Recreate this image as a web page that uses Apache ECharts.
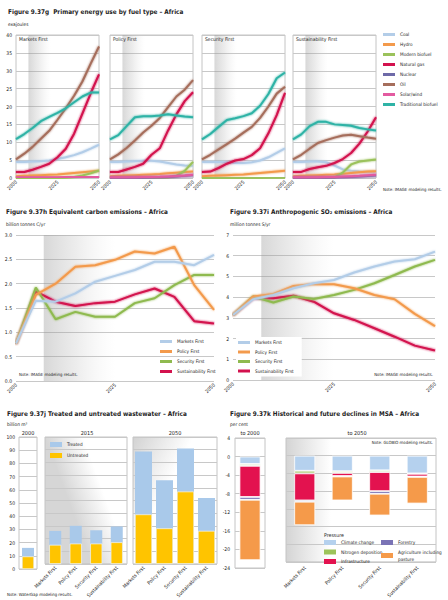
<!DOCTYPE html>
<html><head><meta charset="utf-8">
<script src="https://cdn.jsdelivr.net/npm/echarts@6/dist/echarts.min.js"></script>
<style>html,body{margin:0;padding:0;background:#fff}#c{width:448px;height:600px}</style>
</head><body><div id="c"></div>
<script>
// ---------- DATA ----------
const years = [2000,2005,2010,2015,2020,2025,2030,2035,2040,2045,2050];
const scenarios = ['Markets First','Policy First','Security First','Sustainability First'];
const fuels = ['Coal','Hydro','Modern biofuel','Natural gas','Nuclear','Oil','Solar/wind','Traditional biofuel'];
// Primary energy use (exajoules); rows: Markets, Policy, Security, Sustainability
const coal = [
  [4.5,4.5,4.6,4.7,4.9,5.3,5.8,6.4,7.2,8.2,9.3],
  [4.5,4.5,4.6,4.7,4.8,4.8,4.6,4.2,3.8,3.5,3.4],
  [4.5,4.5,4.5,4.4,4.2,4.2,4.4,4.9,5.8,7.0,8.3],
  [4.5,4.5,4.6,4.6,4.4,3.5,2.4,2.0,1.8,1.7,1.7]];
const hydro = [
  [0.5,0.6,0.7,0.8,0.9,1.0,1.2,1.4,1.6,1.8,2.0],
  [0.5,0.6,0.7,0.8,0.9,1.0,1.1,1.3,1.5,1.7,1.8],
  [0.5,0.6,0.7,0.8,0.9,1.0,1.2,1.4,1.6,1.8,2.0],
  [0.5,0.6,0.7,0.8,0.9,1.0,1.2,1.4,1.6,1.8,1.9]];
const modernBiofuel = [
  [0,0,0,0,0,0,0.1,0.3,0.7,1.3,2.1],
  [0,0,0,0,0,0,0,0.1,0.6,2.0,4.5],
  [0,0,0,0,0,0,0,0,0.1,0.1,0.1],
  [0,0,0,0,0,0.1,1.5,3.8,4.6,4.9,5.2]];
const naturalGas = [
  [1.7,1.7,2.3,3.1,4.0,5.8,8.2,12.4,18.0,23.7,29.0],
  [1.7,1.7,2.4,3.1,4.0,6.5,8.3,13.3,17.8,21.5,24.0],
  [1.7,1.8,2.8,4.0,4.9,5.3,6.4,8.3,12.5,17.6,23.8],
  [1.7,1.7,2.5,3.0,3.4,4.2,5.3,7.0,9.6,13.0,17.0]];
const nuclear = [
  [0.1,0.1,0.1,0.1,0.1,0.1,0.1,0.1,0.1,0.1,0.1],
  [0.1,0.1,0.1,0.1,0.1,0.15,0.2,0.3,0.45,0.6,0.8],
  [0.1,0.1,0.1,0.1,0.1,0.1,0.1,0.1,0.1,0.1,0.1],
  [0.1,0.1,0.1,0.1,0.1,0.15,0.2,0.3,0.4,0.55,0.7]];
const oil = [
  [5.2,6.8,8.7,11.0,13.2,16.3,19.5,23.0,27.0,32.0,36.8],
  [5.2,6.6,8.4,10.5,12.7,14.6,16.8,19.8,22.8,24.7,27.4],
  [5.2,6.5,8.0,9.5,11.0,12.7,14.3,16.8,20.0,23.6,25.5],
  [5.2,6.5,8.2,9.8,10.6,11.3,11.9,12.1,11.7,11.3,11.0]];
const solarWind = [
  [0.2,0.2,0.2,0.2,0.2,0.2,0.25,0.25,0.3,0.3,0.3],
  [0.2,0.2,0.2,0.2,0.25,0.3,0.35,0.45,0.55,0.7,0.9],
  [0.2,0.2,0.2,0.2,0.2,0.2,0.2,0.2,0.2,0.2,0.2],
  [0.2,0.2,0.2,0.2,0.25,0.3,0.4,0.5,0.6,0.75,0.9]];
const tradBiofuel = [
  [10.9,12.3,14.0,15.9,17.1,18.2,19.5,21.2,22.8,23.9,23.9],
  [10.8,12.0,14.5,17.0,17.3,17.3,17.5,17.8,17.5,17.2,17.0],
  [10.8,12.3,14.3,16.2,16.7,17.3,18.1,20.2,23.5,27.9,29.5],
  [10.8,12.2,14.5,15.7,15.7,15.0,14.8,14.6,14.0,13.6,13.3]];
// Equivalent carbon emissions (billion tonnes C/yr)
const carbonMarkets = [0.77,1.65,1.63,1.80,2.04,2.16,2.28,2.45,2.45,2.38,2.59];
const carbonPolicy = [0.77,1.77,2.00,2.35,2.38,2.49,2.66,2.62,2.76,1.97,1.46];
const carbonSecurity = [0.77,1.92,1.27,1.42,1.32,1.32,1.60,1.70,1.97,2.18,2.18];
const carbonSustain = [0.77,1.84,1.63,1.54,1.60,1.63,1.78,1.90,1.73,1.23,1.18];
// Anthropogenic SO2 emissions (million tonnes S/yr)
const so2Markets = [3.14,3.90,4.10,4.43,4.67,4.83,5.19,5.48,5.72,5.83,6.20];
const so2Policy = [3.14,4.03,4.15,4.54,4.64,4.62,4.43,4.10,3.90,3.19,2.60];
const so2Security = [3.14,4.03,3.74,4.03,3.91,4.10,4.35,4.67,5.07,5.48,5.80];
const so2Sustain = [3.14,3.95,3.95,4.07,3.78,3.22,2.90,2.50,2.09,1.66,1.42];
// Wastewater (billion m3)
const ww2000Untreated = [9.5];
const ww2000Treated = [6.5];
const ww2015Untreated = [15,16,16,17];
const ww2015Treated = [11,14,10.5,12.5];
const ww2050Untreated = [39,28,57,26];
const ww2050Treated = [49.5,38,34,26];
// MSA declines (per cent)
const pressures = ['Climate change','Nitrogen deposition','Infrastructure','Forestry','Agriculture including pasture'];
const msaTo2000 = [-1.6,-0.4,-6.7,-0.6,-13.0];           // by pressure
const msaClimate = [-3.4,-3.5,-3.3,-4.0];                // by scenario, to 2050
const msaNitrogen = [-0.6,-0.4,-0.4,-0.1];
const msaInfra = [-6.1,-0.7,-4.3,-0.6];
const msaForestry = [-0.3,-0.1,-0.6,-0.1];
const msaAgri = [-5.3,-5.4,-4.9,-6.0];

// ---------- STYLE ----------
const FONT = '"Liberation Sans Narrow","DejaVu Sans Condensed","Liberation Sans",sans-serif';
const TXT = '#222';
const fuelColors = ['#b3cde8','#f39a4c','#9bc25b','#d3124e','#6e6aa8','#a66e5c','#e35aa0','#2fb3a6'];
const scenColors = ['#b3cde8','#f39a4c','#8fba4f','#d3124e'];
const pressColors = ['#b5d1ee','#9cc35a','#e3124f','#7a73b5','#f59a4a'];
const wwColors = {Untreated:'#ffc400', Treated:'#a9c9ea'};

const grids=[], xAxes=[], yAxes=[], series=[], graphics=[];
function txt(text,x,y,size,o={}){
  const al=o.align||'left';
  graphics.push({type:'text', x:x, y:y, silent:true, z:50,
    style:{text:text, fill:o.color||TXT, font:(o.bold?'bold ':'')+size+'px '+FONT,
      textAlign:al, textVerticalAlign:'middle', align:al, verticalAlign:'middle'}});
}
function grad(x2,y2,stops){return {type:'linear',x:0,y:0,x2:x2,y2:y2,colorStops:stops};}
function band(gi,from,to,stops){
  series.push({type:'line', xAxisIndex:gi, yAxisIndex:gi, data:[], z:1, silent:true,
    markArea:{silent:true, itemStyle:{color:grad(1,0,stops), opacity:1}, label:{show:false},
      data:[[{xAxis:from},{xAxis:to}]]}});
}
const AX = 5;   // axis label size
const yearAxis = (gi)=>({gridIndex:gi, type:'value', min:2000, max:2050, interval:25,
  axisLine:{show:false}, axisTick:{show:false}, splitLine:{show:false},
  axisLabel:{rotate:45, fontSize:AX, margin:3, color:TXT, fontFamily:FONT, formatter:v=>String(v)}});
const bandStops = [{offset:0,color:'rgba(150,150,150,0.38)'},{offset:0.45,color:'rgba(170,170,170,0.22)'},{offset:1,color:'rgba(210,210,210,0)'}];

// ---------- Fig 9.37g energy panels ----------
const energy = [coal,hydro,modernBiofuel,naturalGas,nuclear,oil,solarWind,tradBiofuel];
const panelLeft = [16,110,202,293];
for(let p=0;p<4;p++){
  grids.push({left:panelLeft[p], top:35, width:83, height:143, show:true, borderColor:'#c4c4c4', borderWidth:1, backgroundColor:'#fff'});
  xAxes.push(yearAxis(p));
  yAxes.push({gridIndex:p, type:'value', min:0, max:40, interval:5, axisLine:{show:false}, axisTick:{show:false},
    splitLine:{lineStyle:{color:'#c8c8c8', width:1}},
    axisLabel:{show:p===0, fontSize:AX, margin:4, color:TXT, fontFamily:FONT}});
  band(p,2007.5,2021,bandStops);
  energy.forEach((arr,f)=>{
    series.push({type:'line', name:fuels[f], xAxisIndex:p, yAxisIndex:p, showSymbol:false, symbol:'none', z:2+f,
      color:fuelColors[f], lineStyle:{width:2, color:fuelColors[f], shadowColor:fuelColors[f], shadowBlur:2},
      data: years.map((y,i)=>[y, arr[p][i]])});
  });
}

// ---------- Fig 9.37h carbon ----------
grids.push({left:16, top:235, width:198, height:146});
xAxes.push(yearAxis(4));
yAxes.push({gridIndex:4, type:'value', min:0, max:3, interval:0.5, axisLine:{show:false}, axisTick:{show:false},
  splitLine:{lineStyle:{color:'#c8c8c8'}}, axisLabel:{fontSize:AX, margin:4, color:TXT, fontFamily:FONT, formatter:v=>v.toFixed(1)}});
band(4,2007,2025,bandStops);
[carbonMarkets,carbonPolicy,carbonSecurity,carbonSustain].forEach((arr,s)=>{
  series.push({type:'line', name:scenarios[s], xAxisIndex:4, yAxisIndex:4, showSymbol:false, symbol:'none', z:5-s,
    color:scenColors[s], lineStyle:{width:2, color:scenColors[s], shadowColor:scenColors[s], shadowBlur:2},
    data: years.map((y,i)=>[y,arr[i]])});
});

// ---------- Fig 9.37i SO2 ----------
grids.push({left:233, top:235, width:202, height:145});
xAxes.push(yearAxis(5));
yAxes.push({gridIndex:5, type:'value', min:0, max:7, interval:1, axisLine:{show:false}, axisTick:{show:false},
  splitLine:{lineStyle:{color:'#c8c8c8'}}, axisLabel:{fontSize:AX, margin:4, color:TXT, fontFamily:FONT}});
band(5,2007,2025,bandStops);
[so2Markets,so2Policy,so2Security,so2Sustain].forEach((arr,s)=>{
  series.push({type:'line', name:scenarios[s], xAxisIndex:5, yAxisIndex:5, showSymbol:false, symbol:'none', z:5-s,
    color:scenColors[s], lineStyle:{width:2, color:scenColors[s], shadowColor:scenColors[s], shadowBlur:2},
    data: years.map((y,i)=>[y,arr[i]])});
});

// ---------- Fig 9.37j wastewater (treated drawn behind as full total, untreated in front) ----------
const wwGrids = [
  {left:19, width:18, cats:['2000'], u:ww2000Untreated, t:ww2000Treated, bw:12, labels:false, bg:'#fff'},
  {left:45, width:82, cats:scenarios, u:ww2015Untreated, t:ww2015Treated, bw:12, labels:true,
    bg:grad(0.35,-0.2,[{offset:0,color:'#d6d6d6'},{offset:1,color:'#ffffff'}])},
  {left:133, width:84, cats:scenarios, u:ww2050Untreated, t:ww2050Treated, bw:17, labels:true,
    bg:grad(0.45,0.35,[{offset:0,color:'#d2d2d2'},{offset:1,color:'#ffffff'}])}];
wwGrids.forEach((g,k)=>{
  const gi = 6+k;
  grids.push({left:g.left, top:437, width:g.width, height:132, show:true, borderColor:'#c4c4c4', borderWidth:1, backgroundColor:g.bg});
  xAxes.push({gridIndex:gi, type:'category', data:g.cats, axisLine:{show:false}, axisTick:{show:false},
    axisLabel:{show:g.labels, interval:0, rotate:45, fontSize:AX, margin:3, color:TXT, fontFamily:FONT}});
  yAxes.push({gridIndex:gi, type:'value', min:0, max:100, interval:10, axisLine:{show:false}, axisTick:{show:false},
    splitLine:{lineStyle:{color:'#c8c8c8'}}, axisLabel:{show:k===0, fontSize:AX, margin:4, color:TXT, fontFamily:FONT}});
  series.push({type:'bar', name:'Treated', xAxisIndex:gi, yAxisIndex:gi, barWidth:g.bw, barGap:'-100%', z:2,
    data:g.u.map((v,i)=>v+g.t[i]), itemStyle:{color:wwColors.Treated}});
  series.push({type:'bar', name:'Untreated', xAxisIndex:gi, yAxisIndex:gi, barWidth:g.bw, barGap:'-100%', z:3,
    data:g.u, itemStyle:{color:wwColors.Untreated, borderColor:'#fff', borderWidth:0.6}});
});

// ---------- Fig 9.37k MSA ----------
const msaBy2050 = [msaClimate,msaNitrogen,msaInfra,msaForestry,msaAgri];
const msaGrids = [
  {left:235, width:30, cats:['to 2000'], labels:false, bg:'#fff', vals:msaTo2000.map(v=>[v])},
  {left:286, width:150, cats:scenarios, labels:true,
    bg:grad(0.3,0,[{offset:0,color:'#d4d4d4'},{offset:1,color:'#ffffff'}]), vals:msaBy2050}];
msaGrids.forEach((g,k)=>{
  const gi = 9+k;
  grids.push({left:g.left, top:438, width:g.width, height:130, show:true, borderColor:'#c4c4c4', borderWidth:1, backgroundColor:g.bg});
  xAxes.push({gridIndex:gi, type:'category', data:g.cats, axisLine:{show:false}, axisTick:{show:false},
    axisLabel:{show:g.labels, interval:0, rotate:45, fontSize:AX, margin:5, color:TXT, fontFamily:FONT}});
  yAxes.push({gridIndex:gi, type:'value', min:-24, max:4, interval:4, axisLine:{show:false}, axisTick:{show:false},
    splitLine:{lineStyle:{color:'#c8c8c8'}}, axisLabel:{show:k===0, fontSize:AX, margin:5, color:TXT, fontFamily:FONT}});
  pressures.forEach((pn,i)=>{
    series.push({type:'bar', name:pn, xAxisIndex:gi, yAxisIndex:gi, stack:'msa'+k, barWidth:21, data:g.vals[i],
      itemStyle:{color:pressColors[i], borderColor:'#fff', borderWidth:0.8}});
  });
});

// ---------- TEXT ----------
const T = 6.4, U = 4.8, N = 4.3, L = 4.7;
txt('Figure 9.37g  Primary energy use by fuel type \u2013 Africa', 8, 12, T, {bold:true});
txt('exajoules', 8, 24, U);
scenarios.forEach((s,p)=>txt(s, panelLeft[p]+3, 39, 5));
txt('Note: IMAGE modeling results.', 383, 189, N);

txt('Figure 9.37h Equivalent carbon emissions \u2013 Africa', 6, 212, T, {bold:true});
txt('billion tonnes C/yr', 6, 224, U);
txt('Note: IMAGE modeling results.', 19, 374, N);

txt('Figure 9.37i Anthropogenic SO\u2082 emissions \u2013 Africa', 230, 212, T, {bold:true});
txt('million tonnes S/yr', 230, 224, U);
txt('Note: IMAGE modeling results.', 433, 374, N, {align:'right'});

txt('Figure 9.37j Treated and untreated wastewater \u2013 Africa', 7, 414, T, {bold:true});
txt('billion m\u00b3', 7, 424, U);
txt('2000', 28, 433, 5.5, {align:'center'});
txt('2015', 87, 433, 5.5, {align:'center'});
txt('2050', 175, 433, 5.5, {align:'center'});
txt('Note: WaterGap modeling results.', 7, 594, N);

txt('Figure 9.37k Historical and future declines in MSA \u2013 Africa', 230, 414, T, {bold:true});
txt('per cent', 230, 424, U);
txt('to 2000', 250, 433, 5.5, {align:'center'});
txt('to 2050', 357, 433, 5.5, {align:'center'});
txt('Note: GLOBIO modeling results.', 433, 442, N, {align:'right'});
txt('Pressure', 324, 535, 5.2);

const legTxt = {fontSize:L, color:TXT, fontFamily:FONT, lineHeight:7};
const legends = [
  {data:fuels, left:383, top:31, orient:'vertical', icon:'rect', itemWidth:12, itemHeight:3, itemGap:3, padding:0, textStyle:legTxt},
  {data:scenarios, left:160, top:338, orient:'vertical', icon:'rect', itemWidth:12, itemHeight:3, itemGap:3, padding:0, textStyle:legTxt},
  {data:scenarios, left:236, top:337, orient:'vertical', icon:'rect', itemWidth:12, itemHeight:3, itemGap:2.5, padding:[2,8,2,2], backgroundColor:'#fff', textStyle:legTxt},
  {data:['Treated','Untreated'], left:50, top:441, orient:'vertical', icon:'rect', itemWidth:12, itemHeight:5, itemGap:4, padding:0, textStyle:legTxt},
  {data:['Climate change','Nitrogen deposition','Infrastructure'], left:324, top:539, orient:'vertical', icon:'rect', itemWidth:12, itemHeight:5, itemGap:2.5, padding:0, textStyle:legTxt},
  {data:['Forestry','Agriculture including pasture'], left:381, top:539, orient:'vertical', icon:'rect', itemWidth:12, itemHeight:5, itemGap:2.5, padding:0, textStyle:legTxt,
    formatter:n=>n.replace(' pasture','\npasture')}
];
legends.forEach(l=>{l.selectedMode=false; l.itemStyle={borderWidth:0}; l.lineStyle={width:0};});

const chart = echarts.init(document.getElementById('c'), null, {renderer:'svg', width:448, height:600});
chart.setOption({
  animation:false, backgroundColor:'#fff',
  textStyle:{fontFamily:FONT},
  grid:grids, xAxis:xAxes, yAxis:yAxes, series:series, legend:legends, graphic:graphics
});
</script></body></html>
